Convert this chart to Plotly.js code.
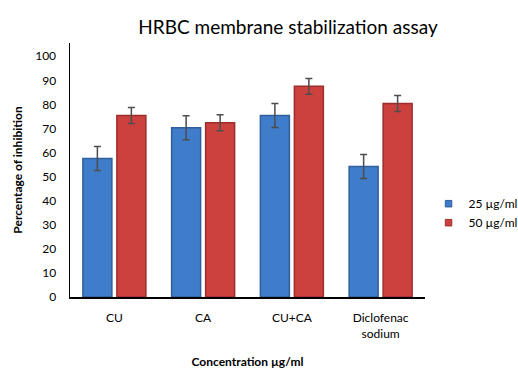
<!DOCTYPE html>
<html>
<head>
<meta charset="utf-8">
<script src="https://cdn.plot.ly/plotly-3.0.1.min.js"></script>
<style>html,body{margin:0;padding:0;background:#fff;}#chart{width:518px;height:384px;}</style>
</head>
<body>
<div id="chart"></div>
<script>
var categories = ["CU", "CA", "CU+CA", "Diclofenac<br>sodium"];
var seriesNames = ["25 µg/ml", "50 µg/ml"];
var values25 = [57.5, 70.3, 75.4, 54.2];
var errors25 = [5, 5, 5, 5];
var values50 = [75.4, 72.4, 87.5, 80.4];
var errors50 = [3.3, 3.3, 3.3, 3.3];
var yTicks = [0, 10, 20, 30, 40, 50, 60, 70, 80, 90, 100];

var font = "Lato, 'Open Sans', 'DejaVu Sans', sans-serif";
var colors = ["#3f7cc9", "#cc403d"];
var lines = ["#2f5f9c", "#9c2f2d"];
function bar(i, vals, errs) {
  return {
    type: "bar", name: seriesNames[i], x: categories, y: vals, showlegend: false,
    marker: {color: colors[i], line: {color: lines[i], width: 1.5}},
    error_y: {type: "data", array: errs, visible: true, color: "#4d4d4d", thickness: 1.5, width: 3.5}
  };
}
function legendItem(i) {
  return {
    type: "scatter", mode: "markers", name: seriesNames[i], x: [null], y: [null],
    marker: {symbol: "square", size: 6.5, color: colors[i], line: {color: lines[i], width: 1}}
  };
}
var data = [
  bar(0, values25, errors25),
  bar(1, values50, errors50),
  legendItem(0), legendItem(1)
];
var layout = {
  width: 518, height: 384,
  margin: {l: 70, r: 93, t: 43, b: 87, autoexpand: false},
  paper_bgcolor: "#fff", plot_bgcolor: "#fff",
  font: {family: font, color: "#000", size: 12},
  title: {text: "HRBC membrane stabilization assay", font: {family: font, size: 19, color: "#000"}, x: 0.556, xanchor: "center", y: 0.93, yanchor: "middle"},
  barmode: "group", bargap: 0.234, bargroupgap: 0.147,
  xaxis: {
    type: "category",
    showline: true, linecolor: "#000", linewidth: 1.5, ticks: "", showgrid: false,
    tickfont: {family: font, size: 12, color: "#000"}, ticklabelstandoff: 9,
    title: {text: "<b>Concentration µg/ml</b>", font: {family: font, size: 12, color: "#000"}, standoff: 18}
  },
  yaxis: {
    range: [0, 105.5], tickvals: yTicks, ticktext: yTicks.map(String),
    showline: true, linecolor: "#000", linewidth: 1.5, ticks: "", showgrid: false, zeroline: false,
    tickfont: {family: font, size: 12, color: "#000"}, ticklabelstandoff: 10,
    title: {text: "<b>Percentage of inhibition</b>", font: {family: font, size: 12, color: "#000"}, standoff: 10}
  },
  legend: {x: 1.01, y: 0.33, xanchor: "left", yanchor: "middle", font: {family: font, size: 12, color: "#000"}, tracegroupgap: 11, itemwidth: 30, bgcolor: "rgba(0,0,0,0)"},
  showlegend: true
};
Plotly.newPlot("chart", data, layout, {displayModeBar: false, staticPlot: true});
</script>
</body>
</html>
